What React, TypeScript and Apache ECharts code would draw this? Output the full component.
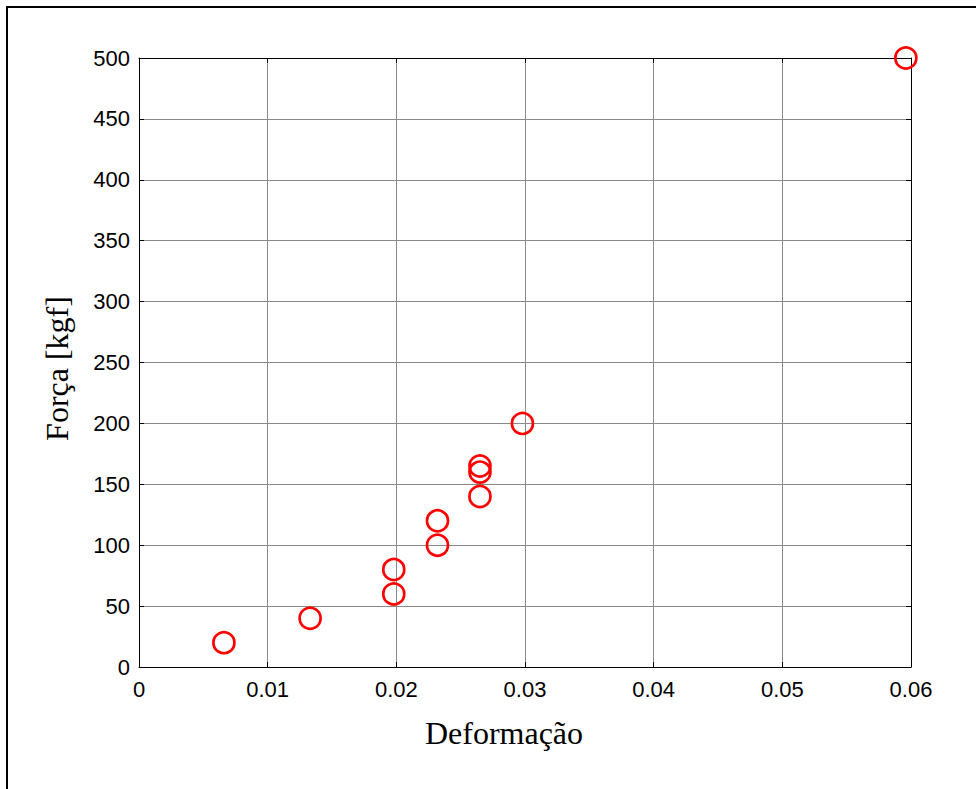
import React, { useEffect, useRef } from 'react';
import * as echarts from 'echarts';

const deformacao: number[] = [0.0066, 0.0133, 0.0198, 0.0198, 0.0232, 0.0232, 0.0265, 0.0265, 0.0265, 0.0298, 0.0596];
const forca: number[] = [20, 40, 60, 80, 100, 120, 140, 160, 165, 200, 500];
const xAxisName = 'Deformação';
const yAxisName = 'Força [kgf]';

export default function App() {
  const ref = useRef<HTMLDivElement>(null);
  useEffect(() => {
    if (!ref.current) return;
    const chart = echarts.init(ref.current, undefined, { renderer: 'svg' });
    const tickFont = { fontFamily: 'Liberation Sans', fontSize: 22, color: '#000' };
    const nameFont = { fontFamily: 'Liberation Serif', fontSize: 32, color: '#000' };
    const data = deformacao.map((x, i) => [x, forca[i]]);
    const fmtX = (v: number) => (v === 0 ? '0' : v.toFixed(2));
    chart.setOption({
      animation: false,
      backgroundColor: '#fff',
      grid: { left: 139, right: 65, top: 58, bottom: 122, show: false },
      xAxis: [
        {
          type: 'value', min: 0, max: 0.06, interval: 0.01,
          name: xAxisName, nameLocation: 'middle', nameGap: 50,
          nameTextStyle: { ...nameFont, padding: [0, 42, 0, 0] },
          axisLine: { show: true, lineStyle: { color: '#000', width: 1 } },
          axisTick: { show: true, inside: true, length: 5, lineStyle: { color: '#000' } },
          axisLabel: { ...tickFont, margin: 11, formatter: fmtX },
          splitLine: { show: true, lineStyle: { color: '#8a8a8a', width: 1 } },
        },
        {
          type: 'value', position: 'top', min: 0, max: 0.06, interval: 0.01,
          axisLine: { show: true, onZero: false, lineStyle: { color: '#000', width: 1 } },
          axisTick: { show: true, inside: true, length: 5, lineStyle: { color: '#000' } },
          axisLabel: { show: false },
          splitLine: { show: false },
        },
      ],
      yAxis: [
        {
          type: 'value', min: 0, max: 500, interval: 50,
          name: yAxisName, nameLocation: 'middle', nameGap: 66,
          nameTextStyle: { ...nameFont, padding: [0, 12, 0, 0] },
          axisLine: { show: true, lineStyle: { color: '#000', width: 1 } },
          axisTick: { show: true, inside: true, length: 5, lineStyle: { color: '#000' } },
          axisLabel: { ...tickFont, margin: 9 },
          splitLine: { show: true, lineStyle: { color: '#8a8a8a', width: 1 } },
        },
        {
          type: 'value', position: 'right', min: 0, max: 500, interval: 50,
          axisLine: { show: true, onZero: false, lineStyle: { color: '#000', width: 1 } },
          axisTick: { show: true, inside: true, length: 5, lineStyle: { color: '#000' } },
          axisLabel: { show: false },
          splitLine: { show: false },
        },
      ],
      series: [
        {
          type: 'scatter',
          xAxisIndex: 0,
          yAxisIndex: 0,
          data,
          clip: false,
          symbol: 'circle',
          symbolSize: 21,
          itemStyle: { color: 'rgba(0,0,0,0)', borderColor: '#ff0000', borderWidth: 2.7, opacity: 1 },
          z: 5,
        },
      ],
      graphic: [
        { type: 'line', shape: { x1: 7, y1: 6, x2: 7, y2: 789 }, style: { stroke: '#000', lineWidth: 2 } },
        { type: 'line', shape: { x1: 6, y1: 7, x2: 976, y2: 7 }, style: { stroke: '#000', lineWidth: 2 } },
      ],
    });
    return () => chart.dispose();
  }, []);
  return <div ref={ref} style={{ position: 'fixed', left: 0, top: 0, width: 976, height: 789, background: '#fff' }} />;
}
